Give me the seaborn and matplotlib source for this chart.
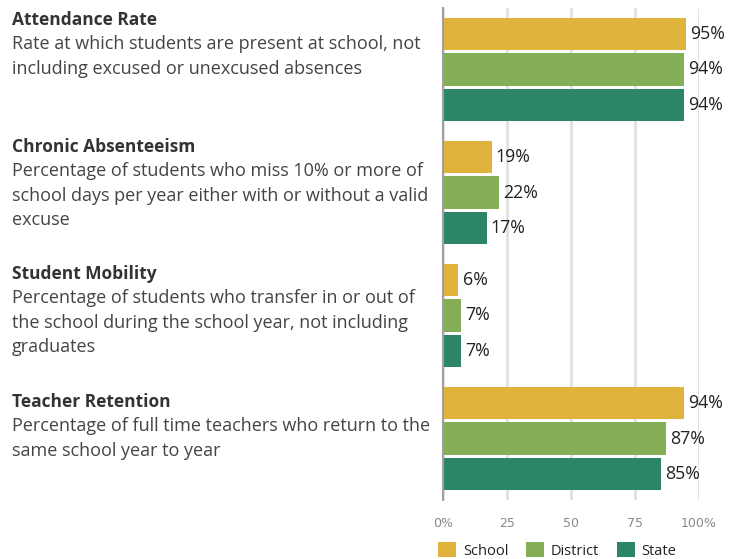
import numpy as np
import pandas as pd
import matplotlib.pyplot as plt
import seaborn as sns
from matplotlib.patches import Patch

metrics = ['Attendance Rate', 'Chronic Absenteeism', 'Student Mobility', 'Teacher Retention']
descriptions = [
    ['Rate at which students are present at school, not',
     'including excused or unexcused absences'],
    ['Percentage of students who miss 10% or more of',
     'school days per year either with or without a valid',
     'excuse'],
    ['Percentage of students who transfer in or out of',
     'the school during the school year, not including',
     'graduates'],
    ['Percentage of full time teachers who return to the',
     'same school year to year'],
]
levels = ['School', 'District', 'State']
school = [95, 19, 6, 94]
district = [94, 22, 7, 87]
state = [94, 17, 7, 85]
colors = ['#E0B33C', '#84AF57', '#2C8569']
ticks = [0, 25, 50, 75, 100]
tick_labels = ['0%', '25', '50', '75', '100%']

df = pd.DataFrame({
    'metric': metrics * 3,
    'level': np.repeat(levels, len(metrics)),
    'value': school + district + state,
})

sns.set_theme(style='white')
plt.rcParams['font.family'] = ['Open Sans', 'DejaVu Sans']

W, H = 740, 559
fig = plt.figure(figsize=(W / 100, H / 100), dpi=100)
ax = fig.add_axes([443 / W, 1 - 500 / H, 256 / W, 492 / H])

sns.barplot(data=df, y='metric', x='value', hue='level', hue_order=levels,
            palette=colors, orient='h', width=0.87, gap=0.1, saturation=1,
            legend=False, linewidth=0, edgecolor='none', ax=ax)

for cont in ax.containers:
    ax.bar_label(cont, fmt='{:.0f}%', padding=3, fontsize=12.8, color='#222222')

ax.set_xlim(0, 100)
ax.set_ylim(3.5, -0.5)
ax.set_xticks(ticks)
ax.set_xticklabels(tick_labels, family=['Liberation Sans Narrow', 'DejaVu Sans'],
                   fontsize=9, color='#888888')
ax.tick_params(axis='x', length=0, pad=12)
ax.tick_params(axis='y', length=0)
ax.set_yticklabels([])
ax.set_xlabel('')
ax.set_ylabel('')
ax.grid(axis='x', color='#e0e0e0', linewidth=2)
ax.set_axisbelow(True)
for s in ['top', 'right', 'bottom']:
    ax.spines[s].set_visible(False)
ax.spines['left'].set_color('#a0a0a0')
ax.spines['left'].set_linewidth(1.5)

# left side text panel
title_base = [25, 152, 279, 407]
for t, desc, yb in zip(metrics, descriptions, title_base):
    fig.text(12 / W, 1 - yb / H, t, fontsize=12.5, fontweight='bold',
             color='#333333', va='baseline')
    for i, line in enumerate(desc):
        fig.text(12 / W, 1 - (yb + 24.3 * (i + 1)) / H, line, fontsize=13,
                 color='#444444', va='baseline')

handles = [Patch(facecolor=c, edgecolor='none', label=l) for c, l in zip(colors, levels)]
fig.legend(handles=handles, loc='upper left', bbox_to_anchor=(438 / W, 1 - 542 / H),
           ncol=3, frameon=False, fontsize=10.5, handlelength=1.23, handleheight=1.23,
           handletextpad=0.48, columnspacing=1.2, borderpad=0, borderaxespad=0,
           labelcolor='#222222')

fig.savefig('out.png', dpi=100)
